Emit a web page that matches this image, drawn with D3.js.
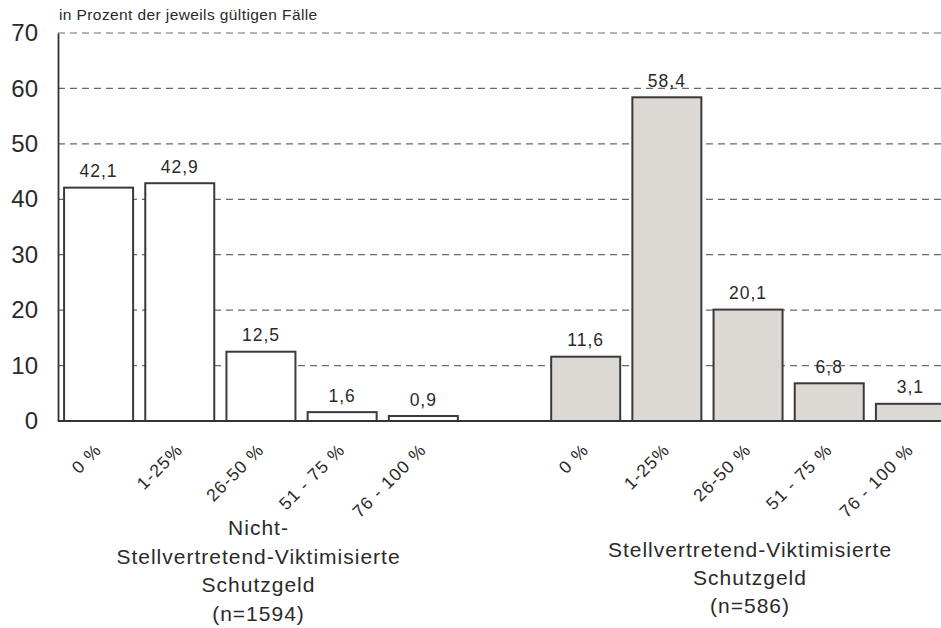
<!DOCTYPE html>
<html>
<head>
<meta charset="utf-8">
<script src="https://cdn.jsdelivr.net/npm/d3@7"></script>
<style>
  html, body { margin: 0; padding: 0; background: #fff; }
  svg { display: block; font-family: "Liberation Sans", Arial, Helvetica, sans-serif; }
</style>
</head>
<body>
<svg id="chart" width="941" height="628"></svg>
<script>
// Share of protection money paid, by victim group (percent of valid cases)
const categories = ["0 %", "1-25%", "26-50 %", "51 - 75 %", "76 - 100 %"];
const nonVicarious = [42.1, 42.9, 12.5, 1.6, 0.9];
const vicarious = [11.6, 58.4, 20.1, 6.8, 3.1];
const groupLabels = [
  ["Nicht-", "Stellvertretend-Viktimisierte", "Schutzgeld", "(n=1594)"],
  ["Stellvertretend-Viktimisierte", "Schutzgeld", "(n=586)"]
];
const yTicks = [0, 10, 20, 30, 40, 50, 60, 70];
const yTitle = "in Prozent der jeweils gültigen Fälle";

const bars = [
  ...categories.map((c, i) => ({ key: "a" + i, label: c, value: nonVicarious[i], group: 0 })),
  ...categories.map((c, i) => ({ key: "b" + i, label: c, value: vicarious[i], group: 1 }))
];
const slots = [...bars.slice(0, 5).map(d => d.key), "gap", ...bars.slice(5).map(d => d.key)];

const svg = d3.select("#chart");
const plotLeft = 58, plotRight = 951, plotTop = 33, plotBottom = 421;
const ink = "#2a2a2a";

const x = d3.scaleBand().domain(slots).range([plotLeft, plotRight])
  .paddingInner(0.15).paddingOuter(0.075);
const y = d3.scaleLinear().domain([0, 70]).range([plotBottom, plotTop]);

// dashed gridlines
svg.append("g").selectAll("line")
  .data(yTicks.filter(t => t > 0))
  .join("line")
  .attr("x1", plotLeft).attr("x2", 941)
  .attr("y1", d => y(d)).attr("y2", d => y(d))
  .attr("stroke", "#6a6a6a")
  .attr("stroke-width", 1.2)
  .attr("stroke-dasharray", "7,5");

// y axis
const yAxis = d3.axisLeft(y).tickValues(yTicks).tickSize(0).tickPadding(20);
const gy = svg.append("g").attr("transform", `translate(${plotLeft},0)`).call(yAxis);
gy.select(".domain").attr("stroke", "#333").attr("stroke-width", 1.8);
gy.selectAll("text")
  .attr("font-size", 24)
  .attr("fill", ink)
  .attr("font-family", "'Liberation Sans', Arial, sans-serif");

// bars
svg.append("g").selectAll("rect")
  .data(bars)
  .join("rect")
  .attr("x", d => x(d.key))
  .attr("width", x.bandwidth())
  .attr("y", d => y(d.value))
  .attr("height", d => y(0) - y(d.value))
  .attr("fill", d => d.group === 0 ? "#ffffff" : "#dcd8d4")
  .attr("stroke", "#3a3a3a")
  .attr("stroke-width", 2);

// baseline
svg.append("line")
  .attr("x1", plotLeft).attr("x2", 941)
  .attr("y1", y(0)).attr("y2", y(0))
  .attr("stroke", "#333").attr("stroke-width", 1.8);

// value labels
const fmt = v => d3.format(".1f")(v).replace(".", ",");
svg.append("g").selectAll("text")
  .data(bars)
  .join("text")
  .attr("x", d => x(d.key) + x.bandwidth() / 2)
  .attr("y", d => y(d.value) - 10.5)
  .attr("text-anchor", "middle")
  .attr("font-size", 17.5)
  .attr("letter-spacing", 1)
  .attr("fill", ink)
  .text(d => fmt(d.value));

// rotated category labels
svg.append("g").selectAll("text")
  .data(bars)
  .join("text")
  .attr("transform", d => `translate(${x(d.key) + x.bandwidth() / 2 + 4},${plotBottom + 30}) rotate(-45)`)
  .attr("text-anchor", "end")
  .attr("font-size", 17.5)
  .attr("letter-spacing", 1.1)
  .attr("fill", ink)
  .text(d => d.label);

// group captions
const groupCenters = [258.5, 750];
const groupTop = [535, 557];
const groupStep = [28.5, 28];
groupLabels.forEach((lines, g) => {
  svg.append("text")
    .attr("x", groupCenters[g])
    .attr("y", groupTop[g])
    .attr("text-anchor", "middle")
    .attr("font-size", 21)
    .attr("letter-spacing", 1)
    .attr("fill", ink)
    .selectAll("tspan")
    .data(lines)
    .join("tspan")
    .attr("x", groupCenters[g])
    .attr("dy", (d, i) => i === 0 ? 0 : groupStep[g])
    .text(d => d);
});

// axis title
svg.append("text")
  .attr("x", 59).attr("y", 20)
  .attr("font-size", 15.5)
  .attr("letter-spacing", 0.4)
  .attr("fill", ink)
  .text(yTitle);
</script>
</body>
</html>
